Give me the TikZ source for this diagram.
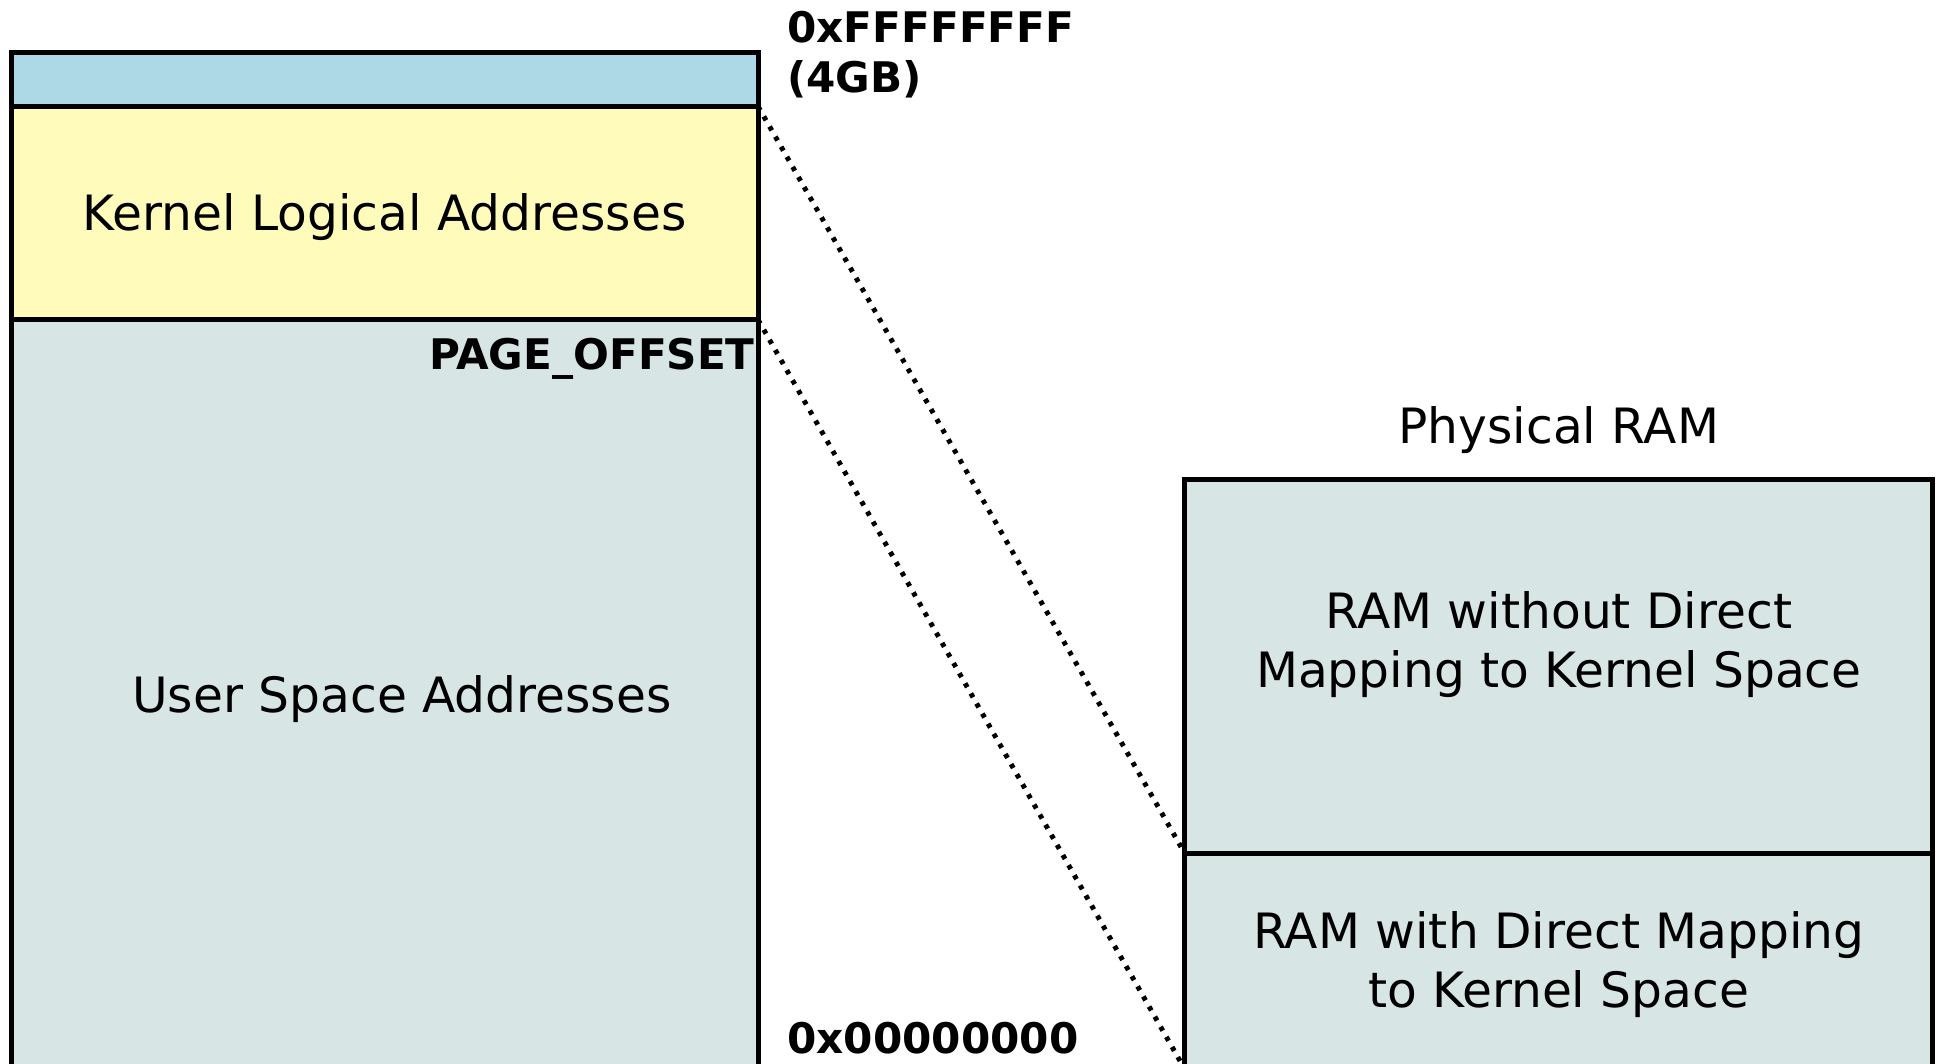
\documentclass[tikz,border=0pt]{standalone}
\usepackage{fontspec}
\setmainfont{DejaVu Sans}
\usetikzlibrary{positioning}
\definecolor{toparea}{HTML}{ADD8E6}
\definecolor{kernelarea}{HTML}{FFFCBB}
\definecolor{userarea}{HTML}{D8E5E5}
\tikzset{
	region/.style={draw, fill=userarea, line width=1.15pt, outer sep=0pt, inner sep=0pt, minimum width=6.04cm},
	plain/.style={inner sep=0pt, align=center, font=\fontsize{11.2}{13.6}\selectfont},
	addr/.style={inner sep=0pt, align=left, font=\bfseries\fontsize{9.7}{11.6}\selectfont},
	mapline/.style={line width=0.04cm, dash pattern=on 0.036cm off 0.058cm}
}

\begin{document}
\begin{tikzpicture}
			\useasboundingbox (0, 0) rectangle (15.68, -8.596);
			\clip (0, 0) rectangle (15.68, -8.596);
			%%%%% VIRTUAL %%%%%
			\node[region, fill=toparea, minimum height=0.435cm, anchor=north west] (high) at (0.09, -0.425) {};
			\node[region, fill=kernelarea, minimum height=1.725cm, below=0pt of high] (kernel) {};
			\node[region, minimum height=6.06cm, below=0pt of kernel] (user) {};
			\node[plain] (kerneltext) at ([yshift=-0.03cm]kernel.center) {Kernel Logical Addresses};
			\node[plain] (usertext) at ([xshift=0.14cm, yshift=-0.035cm]user.center) {User Space Addresses};
			
			\node[addr, anchor=north west] (topaddr) at (6.36, -0.08) {0xFFFFFFFF\\(4GB)};
			\node[addr, anchor=base east] (pageoffset) at (6.11, -2.984) {PAGE\_OFFSET};
			\node[addr, anchor=base west] (zeroaddr) at (6.36, -8.515) {0x00000000};
			
			%%%%% PHYSICAL %%%%%
			\node[region, minimum width=6.05cm, minimum height=3.02cm, anchor=north west] (nodirect) at (9.58, -3.88) {};
			\node[region, minimum width=6.05cm, minimum height=1.745cm, below=0pt of nodirect] (direct) {};
			\node[plain] (nodirecttext) at ([yshift=0.175cm]nodirect.center) {RAM without Direct\\Mapping to Kernel Space};
			\node[plain] (directtext) at ([yshift=-0.03cm]direct.center) {RAM with Direct Mapping\\to Kernel Space};
			\node[plain] (ramtitle) at ([yshift=0.4cm]nodirect.north) {Physical RAM};
			
			%%%%% MAPPING %%%%%
			\draw[mapline] (kernel.north east) -- (nodirect.south west);
			\draw[mapline] (kernel.south east) -- (direct.south west);
		\end{tikzpicture}
\end{document}
